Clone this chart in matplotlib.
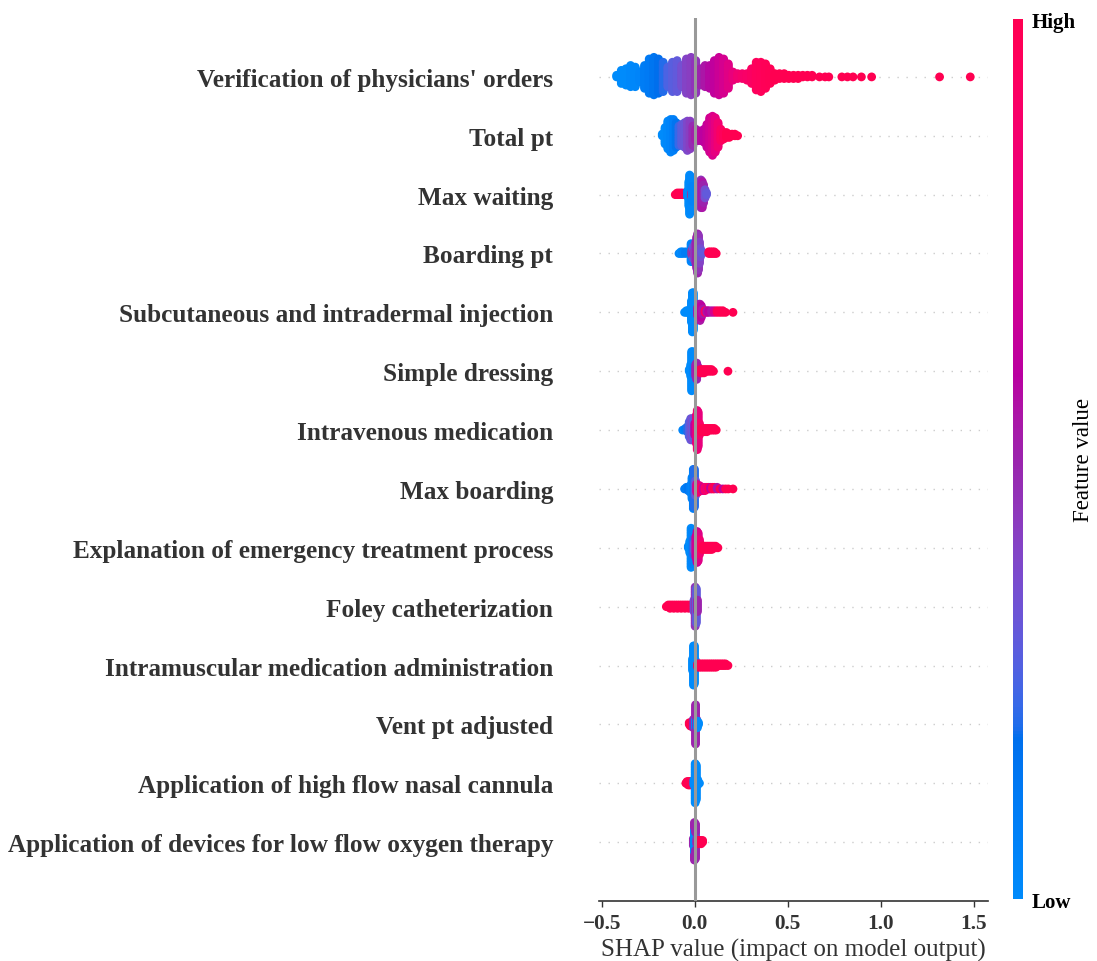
import matplotlib
matplotlib.use("Agg")
import matplotlib.pyplot as plt
import numpy as np
from matplotlib.colors import LinearSegmentedColormap, Normalize
from matplotlib.cm import ScalarMappable
from matplotlib.ticker import MultipleLocator

plt.rcParams['font.family'] = ['Liberation Serif', 'DejaVu Serif']

features = [
    "Verification of physicians' orders",
    "Total pt",
    "Max waiting",
    "Boarding pt",
    "Subcutaneous and intradermal injection",
    "Simple dressing",
    "Intravenous medication",
    "Max boarding",
    "Explanation of emergency treatment process",
    "Foley catheterization",
    "Intramuscular medication administration",
    "Vent pt adjusted",
    "Application of high flow nasal cannula",
    "Application of devices for low flow oxygen therapy",
]

# (shap value, number of points, feature value 0..1)
verification = [
    (-0.42, 2, 0.0), (-0.395, 9, 0.0), (-0.37, 11, 0.0), (-0.345, 14, 0.02),
    (-0.32, 13, 0.03), (-0.295, 7, 0.05), (-0.27, 15, 0.1), (-0.245, 22, 0.12),
    (-0.22, 24, 0.15), (-0.195, 22, 0.18), (-0.17, 19, 0.2), (-0.145, 13, 0.25),
    (-0.12, 19, 0.28), (-0.095, 20, 0.3), (-0.07, 14, 0.35), (-0.045, 22, 0.4),
    (-0.02, 24, 0.42), (0.005, 21, 0.45), (0.03, 11, 0.5), (0.055, 14, 0.55),
    (0.08, 15, 0.58), (0.105, 21, 0.62), (0.13, 24, 0.66), (0.155, 22, 0.7),
    (0.18, 16, 0.75), (0.205, 6, 0.8), (0.23, 4, 0.85), (0.255, 4, 0.88),
    (0.28, 5, 0.9), (0.305, 10, 0.92), (0.33, 18, 0.95), (0.355, 19, 0.96),
    (0.38, 16, 0.97), (0.405, 10, 0.98), (0.43, 5, 1.0), (0.455, 4, 1.0),
    (0.48, 4, 1.0), (0.505, 3, 1.0), (0.53, 3, 1.0), (0.555, 3, 1.0),
    (0.58, 2, 1.0), (0.605, 2, 1.0), (0.63, 2, 1.0), (0.67, 1, 1.0),
    (0.70, 1, 1.0), (0.72, 1, 1.0), (0.79, 1, 1.0), (0.82, 1, 1.0),
    (0.85, 1, 1.0), (0.895, 1, 1.0), (0.95, 1, 1.0), (1.315, 1, 1.0),
    (1.48, 1, 1.0),
]
total_pt = [
    (-0.175, 2, 0.0), (-0.16, 11, 0.0), (-0.145, 18, 0.02), (-0.13, 21, 0.05),
    (-0.115, 20, 0.08), (-0.10, 16, 0.15), (-0.085, 13, 0.22), (-0.07, 14, 0.28),
    (-0.055, 16, 0.32), (-0.04, 19, 0.38), (-0.025, 18, 0.42), (-0.01, 13, 0.48),
    (0.005, 8, 0.52), (0.02, 7, 0.55), (0.035, 7, 0.58), (0.05, 9, 0.6),
    (0.065, 15, 0.64), (0.08, 22, 0.68), (0.095, 25, 0.72), (0.11, 22, 0.78),
    (0.125, 16, 0.85), (0.14, 8, 0.92), (0.155, 5, 0.96), (0.17, 4, 1.0),
    (0.185, 3, 1.0), (0.20, 2, 1.0), (0.215, 2, 1.0), (0.23, 1, 1.0),
]
max_waiting = [
    (-0.105, 1, 1.0), (-0.095, 2, 1.0), (-0.085, 2, 1.0), (-0.075, 2, 1.0),
    (-0.065, 2, 1.0), (-0.04, 4, 0.05), (-0.032, 16, 0.0), (-0.028, 25, 0.0),
    (-0.022, 22, 0.02), (-0.018, 3, 0.95), (-0.015, 10, 0.05),
    (0.02, 6, 0.4), (0.027, 14, 0.5), (0.033, 18, 0.45), (0.04, 17, 0.55),
    (0.047, 12, 0.5), (0.055, 6, 0.35), (0.063, 2, 0.3),
]
boarding_pt = [
    (-0.085, 1, 0.05), (-0.075, 2, 0.0), (-0.065, 2, 0.05), (-0.05, 2, 0.1),
    (-0.02, 12, 0.05), (-0.015, 4, 0.9), (-0.01, 8, 0.25), (-0.005, 3, 0.85),
    (0.0, 10, 0.35), (0.005, 14, 0.45), (0.01, 20, 0.5), (0.015, 25, 0.5),
    (0.02, 22, 0.45), (0.025, 14, 0.4), (0.03, 6, 0.35), (0.04, 2, 0.3),
    (0.075, 2, 1.0), (0.085, 2, 1.0), (0.095, 2, 1.0), (0.105, 2, 1.0),
    (0.115, 1, 1.0),
]
subcutaneous = [
    (-0.055, 1, 0.0), (-0.045, 2, 0.0), (-0.035, 2, 0.0), (-0.025, 4, 0.0),
    (-0.018, 14, 0.0), (-0.013, 25, 0.0), (-0.008, 24, 0.0), (-0.003, 8, 0.0),
    (0.015, 6, 0.55), (0.022, 10, 0.5), (0.028, 11, 0.55), (0.035, 8, 0.6),
    (0.042, 4, 0.55), (0.055, 2, 0.95), (0.065, 2, 0.55), (0.075, 2, 0.6),
    (0.09, 2, 0.55), (0.105, 2, 0.7), (0.12, 2, 1.0), (0.135, 2, 1.0),
    (0.15, 2, 1.0), (0.165, 1, 1.0), (0.205, 1, 1.0),
]
simple_dressing = [
    (-0.03, 2, 0.0), (-0.022, 8, 0.0), (-0.017, 25, 0.0), (-0.012, 24, 0.0),
    (-0.007, 6, 0.05), (0.005, 8, 0.5), (0.01, 11, 0.5), (0.016, 6, 0.55),
    (0.03, 3, 1.0), (0.04, 3, 1.0), (0.05, 3, 1.0), (0.06, 2, 1.0),
    (0.07, 2, 1.0), (0.08, 2, 1.0), (0.09, 2, 1.0), (0.10, 1, 1.0),
    (0.178, 1, 1.0),
]
intravenous = [
    (-0.065, 1, 0.05), (-0.05, 2, 0.1), (-0.04, 4, 0.2), (-0.03, 10, 0.25),
    (-0.022, 14, 0.3), (-0.015, 14, 0.35), (-0.008, 12, 0.3), (0.0, 8, 0.6),
    (0.008, 18, 0.75), (0.013, 25, 0.85), (0.018, 22, 0.8), (0.025, 8, 0.9),
    (0.035, 3, 1.0), (0.045, 3, 1.0), (0.055, 3, 1.0), (0.065, 3, 1.0),
    (0.075, 2, 1.0), (0.085, 2, 1.0), (0.095, 2, 1.0), (0.105, 2, 1.0),
    (0.115, 1, 1.0),
]
max_boarding = [
    (-0.055, 1, 0.1), (-0.045, 2, 0.1), (-0.035, 3, 0.15), (-0.025, 5, 0.1),
    (-0.015, 14, 0.05), (-0.008, 25, 0.1), (-0.002, 24, 0.2), (0.004, 10, 0.3),
    (0.01, 6, 0.7), (0.018, 5, 0.9), (0.026, 4, 0.75), (0.035, 3, 0.95),
    (0.045, 3, 0.65), (0.055, 3, 0.9), (0.065, 2, 0.8), (0.075, 2, 1.0),
    (0.085, 2, 0.6), (0.095, 2, 0.95), (0.105, 2, 1.0), (0.12, 2, 0.55),
    (0.135, 1, 1.0), (0.15, 1, 0.6), (0.165, 1, 1.0), (0.18, 1, 1.0),
    (0.205, 1, 1.0),
]
explanation = [
    (-0.035, 2, 0.05), (-0.027, 8, 0.0), (-0.02, 25, 0.0), (-0.014, 22, 0.05),
    (-0.008, 10, 0.2), (-0.002, 6, 0.3), (0.006, 14, 0.7), (0.012, 20, 0.65),
    (0.018, 18, 0.75), (0.025, 10, 0.85), (0.032, 4, 0.9),
    (0.042, 3, 1.0), (0.052, 3, 1.0), (0.062, 3, 1.0), (0.072, 3, 1.0),
    (0.082, 3, 1.0), (0.092, 3, 1.0), (0.102, 2, 1.0), (0.112, 2, 1.0),
    (0.124, 1, 1.0),
]
foley = [
    (-0.153, 1, 1.0), (-0.143, 2, 1.0), (-0.133, 3, 1.0), (-0.123, 2, 1.0),
    (-0.113, 3, 1.0), (-0.103, 2, 1.0), (-0.093, 3, 1.0), (-0.083, 2, 1.0),
    (-0.073, 3, 1.0), (-0.063, 2, 1.0), (-0.053, 3, 1.0), (-0.043, 2, 1.0),
    (-0.033, 3, 1.0), (-0.023, 2, 1.0), (-0.013, 3, 1.0),
    (-0.004, 8, 0.3), (0.002, 25, 0.45), (0.008, 22, 0.3), (0.014, 8, 0.5),
]
intramuscular = [
    (-0.012, 8, 0.0), (-0.007, 25, 0.0), (-0.002, 24, 0.0), (0.004, 6, 0.0),
    (0.015, 3, 1.0), (0.025, 3, 1.0), (0.035, 3, 1.0), (0.045, 3, 1.0),
    (0.055, 3, 1.0), (0.065, 3, 1.0), (0.075, 3, 1.0), (0.085, 3, 1.0),
    (0.095, 3, 1.0), (0.105, 3, 1.0), (0.115, 3, 1.0), (0.125, 2, 1.0),
    (0.135, 2, 1.0), (0.145, 2, 1.0), (0.155, 2, 1.0), (0.165, 2, 1.0),
    (0.178, 1, 1.0),
]
vent_pt = [
    (-0.03, 2, 1.0), (-0.024, 3, 1.0), (-0.018, 3, 1.0), (-0.008, 6, 0.5),
    (0.004, 8, 0.0), (0.004, 17, 0.5), (0.01, 6, 0.5), (0.014, 5, 0.0),
    (0.02, 2, 0.0),
]
high_flow = [
    (-0.048, 1, 1.0), (-0.042, 2, 1.0), (-0.036, 3, 1.0), (-0.03, 3, 1.0),
    (-0.024, 3, 1.0), (-0.016, 2, 1.0), (-0.005, 4, 0.0), (0.002, 25, 0.0),
    (0.008, 22, 0.0), (0.016, 4, 0.0), (0.025, 1, 0.0),
]
low_flow = [
    (-0.008, 5, 0.5), (-0.002, 16, 0.0), (-0.002, 8, 0.5), (0.004, 10, 0.0),
    (0.004, 12, 0.5), (0.01, 4, 0.45), (0.018, 3, 1.0), (0.026, 3, 1.0),
    (0.034, 3, 1.0), (0.042, 2, 1.0),
]

rows = [verification, total_pt, max_waiting, boarding_pt, subcutaneous,
        simple_dressing, intravenous, max_boarding, explanation, foley,
        intramuscular, vent_pt, high_flow, low_flow]


def lch2rgb(l, c, h):
    a = c * np.cos(h)
    b = c * np.sin(h)
    fy = (l + 16) / 116
    fx = fy + a / 500
    fz = fy - b / 200

    def finv(t):
        return np.where(t ** 3 > 0.008856, t ** 3, (t - 16 / 116) / 7.787)

    xyz = np.array([0.95047 * finv(fx), finv(fy), 1.08883 * finv(fz)])
    m = np.array([[3.2406, -1.5372, -0.4986],
                  [-0.9689, 1.8758, 0.0415],
                  [0.0557, -0.2040, 1.0570]])
    lin = m @ xyz
    rgb = np.where(lin > 0.0031308,
                   1.055 * np.power(np.clip(lin, 0, None), 1 / 2.4) - 0.055,
                   12.92 * lin)
    return np.clip(rgb, 0, 1)


# shap's red_blue map (lch interpolation, darker in the middle)
nsteps = 100
l_vals = list(np.linspace(54, 40, nsteps // 2)) + list(np.linspace(40, 54, nsteps // 2))
c_vals = np.linspace(70, 90, nsteps)
h_vals = np.linspace(4.6588, 0.35470565 + 2 * np.pi, nsteps)
cmap = LinearSegmentedColormap.from_list(
    'red_blue', [lch2rgb(l, c, h) for l, c, h in zip(l_vals, c_vals, h_vals)])


def swarm(vals, row_height=0.4, nbins=100):
    quant = np.round(nbins * (vals - vals.min()) / (vals.max() - vals.min() + 1e-8))
    order = np.argsort(quant, kind='stable')
    ys = np.zeros(len(vals))
    layer = 0
    last = -1
    for i in order:
        if quant[i] != last:
            layer = 0
        ys[i] = np.ceil(layer / 2) * ((layer % 2) * 2 - 1)
        layer += 1
        last = quant[i]
    ys *= 0.9 * (row_height / np.max(ys + 1))
    return ys


fig = plt.figure(figsize=(10.97, 9.62), dpi=100)
ax = fig.add_axes([0.546, 0.0624, 0.3546, 0.9178])

n = len(features)
for i, row in enumerate(rows):
    pos = n - 1 - i
    vals = np.repeat([r[0] for r in row], [r[1] for r in row])
    fvals = np.repeat([r[2] for r in row], [r[1] for r in row])
    ys = swarm(vals)
    ax.axhline(pos, color='#cccccc', lw=1, dashes=(1, 5.5), zorder=-1)
    ax.scatter(vals, pos + ys, c=fvals, cmap=cmap, vmin=0, vmax=1,
               s=40, linewidths=0, zorder=2)

ax.axvline(0, color='#999999', lw=2.2, zorder=3)

ax.set_ylim(-1, n)
ax.set_yticks(range(n))
ax.set_yticklabels(features[::-1], fontsize=18.2, fontweight='bold', color='#333333')
ax.tick_params('y', length=0, pad=33)
ax.xaxis.set_major_locator(MultipleLocator(0.5))
ax.tick_params('x', labelsize=15.3, colors='#333333', length=4.5, width=1, pad=4)
for lbl in ax.get_xticklabels():
    lbl.set_fontweight('bold')
for side in ['top', 'right', 'left']:
    ax.spines[side].set_visible(False)
ax.spines['bottom'].set_color('#333333')
ax.spines['bottom'].set_linewidth(1.2)
ax.set_xlabel('SHAP value (impact on model output)', fontsize=18,
              color='#333333', labelpad=4)

cax = fig.add_axes([0.9234, 0.0644, 0.0091, 0.9148])
cb = fig.colorbar(ScalarMappable(norm=Normalize(0, 1), cmap=cmap), cax=cax, ticks=[0, 1])
cb.set_ticklabels(['Low', 'High'])
cb.outline.set_visible(False)
cax.tick_params(length=0, labelsize=15, pad=6)
for lbl in cax.get_yticklabels():
    lbl.set_fontweight('bold')
cb.set_label('Feature value', size=16.5, labelpad=-2)

fig.savefig('out.png', dpi=100)
